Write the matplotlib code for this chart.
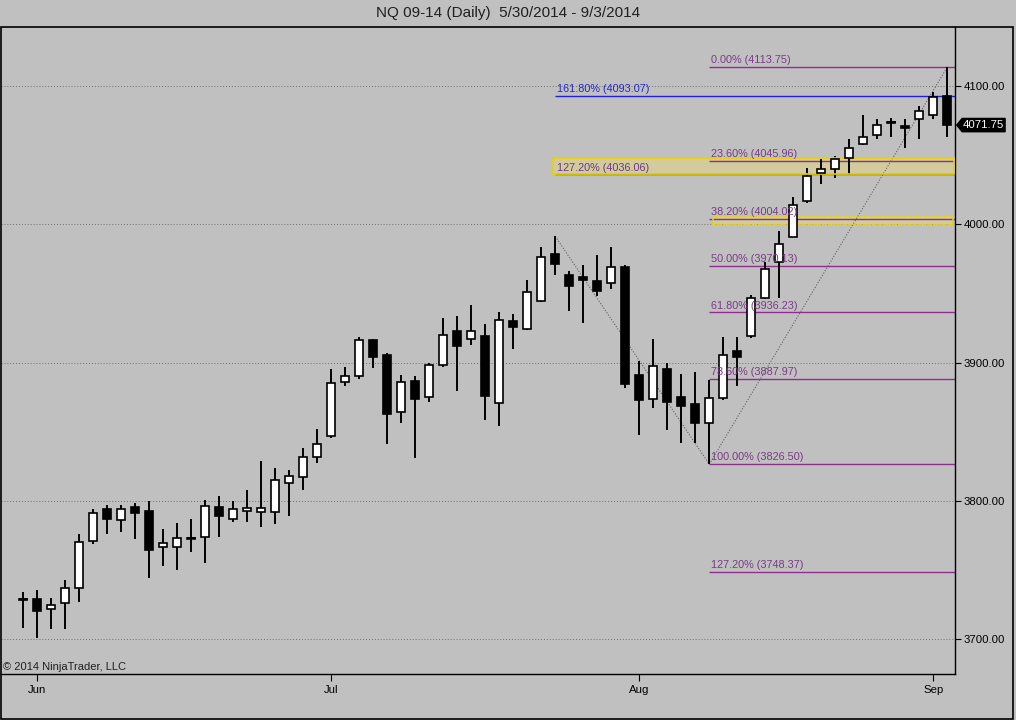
import matplotlib
matplotlib.use("Agg")
import matplotlib.pyplot as plt
import numpy as np
from matplotlib.patches import Rectangle, Polygon
from matplotlib.transforms import blended_transform_factory

plt.rcParams['font.family'] = ['Liberation Sans', 'DejaVu Sans']

# daily OHLC, NQ 09-14, 5/30/2014 .. 9/3/2014
opens = [3728.5, 3728.75, 3721.5, 3726.25, 3736.75, 3770.75, 3793.75, 3786.0, 3795.5, 3792.5,
         3766.75, 3766.75, 3772.5, 3773.5, 3795.5, 3786.5, 3792.5, 3792.0, 3792.0, 3813.0,
         3817.0, 3831.5, 3847.0, 3885.75, 3890.5, 3916.25, 3905.5, 3864.0, 3886.5, 3874.75,
         3898.0, 3922.5, 3916.75, 3919.0, 3870.5, 3930.0, 3924.5, 3944.75, 3978.5, 3963.25,
         3961.75, 3959.0, 3957.25, 3969.0, 3891.0, 3873.5, 3895.25, 3874.75, 3870.0, 3856.0,
         3874.0, 3908.25, 3919.25, 3946.5, 3973.0, 3991.0, 4017.0, 4037.0, 4039.75, 4047.75,
         4057.75, 4064.5, 4073.5, 4071.25, 4076.0, 4078.75, 4092.75]
highs = [3733.75, 3735.5, 3729.75, 3742.75, 3776.0, 3793.75, 3797.0, 3797.0, 3798.5, 3800.0,
         3779.5, 3784.0, 3787.0, 3800.5, 3803.5, 3800.0, 3807.75, 3829.0, 3823.5, 3822.25,
         3838.0, 3852.0, 3895.0, 3896.5, 3918.75, 3917.0, 3907.0, 3891.0, 3890.25, 3900.0,
         3932.0, 3933.5, 3941.5, 3927.75, 3936.25, 3935.0, 3959.75, 3983.75, 3991.25, 3966.5,
         3970.5, 3977.75, 3983.75, 3970.5, 3901.0, 3916.75, 3900.0, 3891.75, 3893.0, 3887.25,
         3918.75, 3918.25, 3948.75, 3972.5, 3995.25, 4020.0, 4041.0, 4047.25, 4049.5, 4061.75,
         4079.0, 4076.0, 4077.0, 4076.0, 4085.75, 4096.0, 4113.75]
lows = [3708.25, 3700.5, 3707.25, 3707.25, 3727.0, 3769.0, 3776.0, 3777.5, 3772.5, 3744.25,
        3752.75, 3750.0, 3763.0, 3755.25, 3773.75, 3784.75, 3784.75, 3781.25, 3783.0, 3789.0,
        3807.75, 3827.5, 3845.25, 3883.0, 3888.0, 3896.25, 3841.0, 3856.5, 3831.0, 3871.5,
        3897.0, 3879.5, 3912.75, 3858.5, 3854.0, 3909.75, 3923.5, 3944.0, 3963.25, 3937.5,
        3928.5, 3948.0, 3953.25, 3881.25, 3847.5, 3867.25, 3851.25, 3842.0, 3841.5, 3826.5,
        3873.0, 3883.25, 3917.5, 3946.0, 3947.0, 3990.75, 4015.5, 4029.0, 4033.25, 4036.0,
        4057.0, 4061.75, 4063.25, 4055.0, 4062.0, 4076.0, 4063.0]
closes = [3729.0, 3720.5, 3724.5, 3737.0, 3770.0, 3791.5, 3787.0, 3793.75, 3791.5, 3764.5,
          3769.25, 3772.75, 3773.0, 3796.25, 3789.25, 3793.75, 3794.5, 3794.5, 3815.0, 3818.0,
          3831.5, 3840.75, 3885.0, 3890.25, 3916.25, 3904.25, 3863.0, 3885.75, 3873.75, 3898.25,
          3919.75, 3912.25, 3922.5, 3876.0, 3930.5, 3926.0, 3950.75, 3976.0, 3971.5, 3955.5,
          3960.0, 3952.0, 3969.0, 3884.75, 3873.0, 3897.5, 3871.5, 3868.75, 3856.5, 3874.0,
          3905.5, 3903.75, 3946.5, 3968.0, 3985.75, 4014.0, 4035.0, 4039.75, 4047.5, 4055.0,
          4063.25, 4072.0, 4074.0, 4070.0, 4082.0, 4092.25, 4071.75]

month_pos = [1, 22, 44, 65]          # first trading day of each month
month_labels = ['Jun', 'Jul', 'Aug', 'Sep']
price_ticks = [3700, 3800, 3900, 4000, 4100]

# fib retracement: swing low (bar 49) -> swing high (bar 66)
fib_lo_bar, fib_hi_bar = 49, 66
fib_lo, fib_hi = 3826.50, 4113.75
fib_pcts = [0.0, 23.6, 38.2, 50.0, 61.8, 78.6, 100.0, 127.2]
# second fib tool: swing high (bar 38) -> same swing low, extensions only
ext_hi_bar = 38
ext_hi = 3991.25
ext_pcts = [127.2, 161.8]
ext_text_colors = ['#6a3a86', '#2626d0']
ext_line_colors = ['#5a3a30', '#2020e0']
# confluence zones drawn as boxes
zone1 = (4036.06, 4047.6)
zone2 = (3999.5, 4006.0)

BG = '#c0c0c0'
PURPLE = '#8e2f8e'
PURPLE_TXT = '#7a3a86'
ZONE_FILL = '#ffe650'

fig = plt.figure(figsize=(10.16, 7.2), dpi=100, facecolor=BG)
ax = fig.add_axes([1 / 1016, 46 / 720, 954 / 1016, 647 / 720])
ax.set_facecolor(BG)

o = np.array(opens); h = np.array(highs); l = np.array(lows); c = np.array(closes)
x = np.arange(len(o))
xmin, xmax = -1.59, 66.55
ax.set_xlim(xmin, xmax)
ax.set_ylim(3674.7, 4142.7)

# grid
ax.yaxis.grid(True, color='#707070', linestyle=(0, (1, 2)), linewidth=0.7)
ax.set_axisbelow(True)

# zones
ax.add_patch(Rectangle((37.85, zone1[0]), xmax - 0.05 - 37.85, zone1[1] - zone1[0],
                       facecolor=ZONE_FILL, alpha=0.3, edgecolor='none', zorder=1))
ax.add_patch(Rectangle((37.85, zone1[0]), xmax - 0.05 - 37.85, zone1[1] - zone1[0],
                       facecolor='none', edgecolor='#e8d400', lw=1.2, zorder=4))
ax.add_patch(Rectangle((49.25, zone2[0]), 66.4 - 49.25, zone2[1] - zone2[0],
                       facecolor=ZONE_FILL, alpha=0.3, edgecolor='none', zorder=1))
ax.add_patch(Rectangle((49.25, zone2[0]), 66.4 - 49.25, zone2[1] - zone2[0],
                       facecolor='none', edgecolor='#e8d400', lw=1.2, ls=(0, (2, 1)), zorder=4))

# fib retracement lines
rng = fib_hi - fib_lo
for p in fib_pcts:
    lvl = fib_hi - p / 100 * rng
    ax.hlines(lvl, fib_lo_bar, xmax, color=PURPLE, lw=1.0, zorder=2)
    ax.annotate(f"{p:.2f}% ({lvl + 1e-9:.2f})", (fib_lo_bar, lvl), xytext=(1.5, 1.2),
                textcoords='offset points', fontsize=7.8, color=PURPLE_TXT,
                ha='left', va='bottom', zorder=5)

rng2 = ext_hi - fib_lo
for p, tcol, lcol in zip(ext_pcts, ext_text_colors, ext_line_colors):
    lvl = fib_lo + p / 100 * rng2
    ax.hlines(lvl, ext_hi_bar, xmax, color=lcol, lw=1.0, zorder=2)
    ax.annotate(f"{p:.2f}% ({lvl:.2f})", (ext_hi_bar, lvl), xytext=(1.5, 1.2),
                textcoords='offset points', fontsize=7.8, color=tcol,
                ha='left', va='bottom', zorder=5)

# swing lines of the fib tools
ax.plot([ext_hi_bar, fib_lo_bar], [ext_hi, fib_lo], color='#606060', ls=(0, (1, 1.5)), lw=0.8, zorder=2)
ax.plot([fib_lo_bar, fib_hi_bar], [fib_lo, fib_hi], color='#606060', ls=(0, (1, 1.5)), lw=0.8, zorder=2)

# candles
up = c >= o
ax.vlines(x, l, h, color='black', lw=1.4, zorder=3)
bottoms = np.minimum(o, c)
heights = np.abs(c - o)
ax.bar(x, heights, width=0.58, bottom=bottoms, color=np.where(up, 'white', 'black'),
       edgecolor='black', linewidth=1.2, zorder=4)
doji = heights < 0.6
ax.hlines(c[doji], x[doji] - 0.32, x[doji] + 0.32, color='black', lw=1.4, zorder=4)

# axes styling
for s in ['left', 'top']:
    ax.spines[s].set_visible(False)
for s in ['right', 'bottom']:
    ax.spines[s].set_color('black')
    ax.spines[s].set_linewidth(1.0)
ax.yaxis.tick_right()
ax.set_yticks(price_ticks)
ax.set_yticklabels([f"{v:.2f}" for v in price_ticks])
ax.tick_params(axis='y', direction='out', length=4, width=0.8, pad=2, labelsize=8.2, colors='black')
ax.set_xticks(month_pos)
ax.set_xticklabels(month_labels)
ax.tick_params(axis='x', direction='out', length=5, width=0.8, pad=3, labelsize=8.2, colors='black')

# last price marker
tr = blended_transform_factory(ax.transAxes, ax.transData)
last = closes[-1]
hh = 4.8
ax.add_patch(Polygon([(1.0018, last), (1.0075, last + hh), (1.0525, last + hh),
                      (1.0525, last - hh), (1.0075, last - hh)], closed=True,
                     transform=tr, facecolor='black', edgecolor='black', clip_on=False, zorder=6))
ax.text(1.0295, last, f"{last:.2f}", transform=tr, color='white', fontsize=8.2,
        ha='center', va='center', zorder=7, clip_on=False)

# title, copyright, outer frame
fig.text(0.5, 1 - 13 / 720, "NQ 09-14 (Daily)  5/30/2014 - 9/3/2014", ha='center', va='center',
         fontsize=11, color='#202020')
fig.text(3 / 1016, 1 - 667 / 720, "\u00a9 2014 NinjaTrader, LLC", ha='left', va='center',
         fontsize=8, color='#202020')
fig.add_artist(Rectangle((1 / 1016, 1 / 720), 1012 / 1016, 692 / 720, transform=fig.transFigure,
                         facecolor='none', edgecolor='black', lw=1.2))

fig.savefig('out.png', dpi=100, facecolor=BG)
